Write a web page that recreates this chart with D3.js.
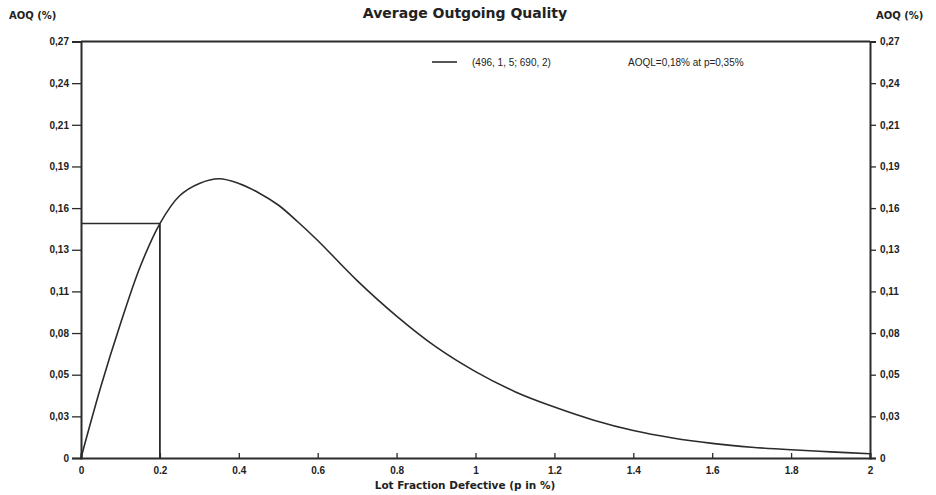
<!DOCTYPE html>
<html>
<head>
<meta charset="utf-8">
<script src="https://cdn.jsdelivr.net/npm/d3@7"></script>
<style>
  body { margin: 0; background: #fff; }
  svg text { fill: #222; }
</style>
</head>
<body>
<div id="chart"></div>
<script>
// lot fraction defective p (in %)
var pValues = [0, 0.05, 0.1, 0.15, 0.2, 0.25, 0.3, 0.35, 0.4, 0.45, 0.5, 0.55, 0.6, 0.7, 0.8, 0.9,
               1.0, 1.1, 1.2, 1.3, 1.4, 1.5, 1.6, 1.7, 1.8, 1.9, 2.0];
// average outgoing quality (in %)
var aoqValues = [0, 0.046, 0.087, 0.124, 0.152, 0.17, 0.178, 0.181, 0.178, 0.172, 0.164, 0.153, 0.141, 0.115, 0.092, 0.072,
                 0.056, 0.043, 0.033, 0.0245, 0.0178, 0.013, 0.0095, 0.007, 0.0053, 0.004, 0.0028];
// y ticks (equally spaced) and their printed labels
var yTickValues = [0, 0.027, 0.054, 0.081, 0.108, 0.135, 0.162, 0.189, 0.216, 0.243, 0.27];
var yTickLabels = ["0", "0,03", "0,05", "0,08", "0,11", "0,13", "0,16", "0,19", "0,21", "0,24", "0,27"];
var xTickValues = [0, 0.2, 0.4, 0.6, 0.8, 1, 1.2, 1.4, 1.6, 1.8, 2];
var xTickLabels = ["0", "0.2", "0.4", "0.6", "0.8", "1", "1.2", "1.4", "1.6", "1.8", "2"];
// marked reference point
var refPoint = { p: 0.2, aoq: 0.152 };
var legendLabel = "(496, 1, 5; 690, 2)";
var aoqlLabel = "AOQL=0,18% at p=0,35%";

var width = 936, height = 495;
var margin = { left: 81, right: 66, top: 41.5, bottom: 37 };

var svg = d3.select("#chart").append("svg")
    .attr("width", width)
    .attr("height", height);

var x = d3.scaleLinear().domain([0, 2]).range([margin.left, width - margin.right]);
var y = d3.scaleLinear().domain([0, 0.27]).range([height - margin.bottom, margin.top]);

var ink = "#2b2b2b";
var tickFont = "bold 10px 'Liberation Sans', Arial, sans-serif";

// left axis
var yAxisLeft = d3.axisLeft(y)
    .tickValues(yTickValues)
    .tickSize(9)
    .tickPadding(3)
    .tickFormat(function(d, i) { return yTickLabels[i]; });
var gl = svg.append("g")
    .attr("transform", "translate(" + x(0) + ",0)")
    .call(yAxisLeft);

// right axis
var yAxisRight = d3.axisRight(y)
    .tickValues(yTickValues)
    .tickSize(6)
    .tickPadding(4)
    .tickFormat(function(d, i) { return yTickLabels[i]; });
var gr = svg.append("g")
    .attr("transform", "translate(" + x(2) + ",0)")
    .call(yAxisRight);

// bottom axis
var xAxis = d3.axisBottom(x)
    .tickValues(xTickValues)
    .tickSize(-5)
    .tickPadding(9)
    .tickFormat(function(d, i) { return xTickLabels[i]; });
var gb = svg.append("g")
    .attr("transform", "translate(0," + y(0) + ")")
    .call(xAxis);

[gl, gr, gb].forEach(function(g) {
    g.select(".domain").attr("stroke", ink).attr("stroke-width", 2);
    g.selectAll(".tick line").attr("stroke", ink).attr("stroke-width", 1.3);
    g.selectAll(".tick text").style("font", tickFont).attr("fill", ink);
});

// top frame line
svg.append("line")
    .attr("x1", x(0)).attr("x2", x(2))
    .attr("y1", y(0.27)).attr("y2", y(0.27))
    .attr("stroke", ink).attr("stroke-width", 2);

// reference lines at p = 0.2
svg.append("line")
    .attr("x1", x(0)).attr("x2", x(refPoint.p))
    .attr("y1", y(refPoint.aoq)).attr("y2", y(refPoint.aoq))
    .attr("stroke", ink).attr("stroke-width", 1.6);
svg.append("line")
    .attr("x1", x(refPoint.p)).attr("x2", x(refPoint.p))
    .attr("y1", y(0)).attr("y2", y(refPoint.aoq))
    .attr("stroke", ink).attr("stroke-width", 1.8);

// AOQ curve
var data = pValues.map(function(p, i) { return { p: p, v: aoqValues[i] }; });
var line = d3.line()
    .x(function(d) { return x(d.p); })
    .y(function(d) { return y(d.v); })
    .curve(d3.curveCatmullRom.alpha(0.5));
svg.append("path")
    .datum(data)
    .attr("d", line)
    .attr("fill", "none")
    .attr("stroke", ink)
    .attr("stroke-width", 1.6);

// legend
svg.append("line")
    .attr("x1", 432).attr("x2", 457)
    .attr("y1", 62).attr("y2", 62)
    .attr("stroke", ink).attr("stroke-width", 1.6);
svg.append("text")
    .attr("x", 472).attr("y", 65.5)
    .style("font", "10px 'Liberation Sans', Arial, sans-serif")
    .text(legendLabel);
svg.append("text")
    .attr("x", 628).attr("y", 65.5)
    .style("font", "10px 'Liberation Sans', Arial, sans-serif")
    .text(aoqlLabel);

// titles
svg.append("text")
    .attr("x", 465).attr("y", 18)
    .attr("text-anchor", "middle")
    .style("font", "bold 14px 'DejaVu Sans', Verdana, sans-serif")
    .text("Average Outgoing Quality");

svg.append("text")
    .attr("x", 9).attr("y", 19)
    .style("font", "bold 10px 'DejaVu Sans', Verdana, sans-serif")
    .text("AOQ (%)");
svg.append("text")
    .attr("x", 876).attr("y", 19)
    .style("font", "bold 10px 'DejaVu Sans', Verdana, sans-serif")
    .text("AOQ (%)");

svg.append("text")
    .attr("x", 465).attr("y", 489)
    .attr("text-anchor", "middle")
    .style("font", "bold 10.5px 'DejaVu Sans', Verdana, sans-serif")
    .text("Lot Fraction Defective (p in %)");
</script>
</body>
</html>
